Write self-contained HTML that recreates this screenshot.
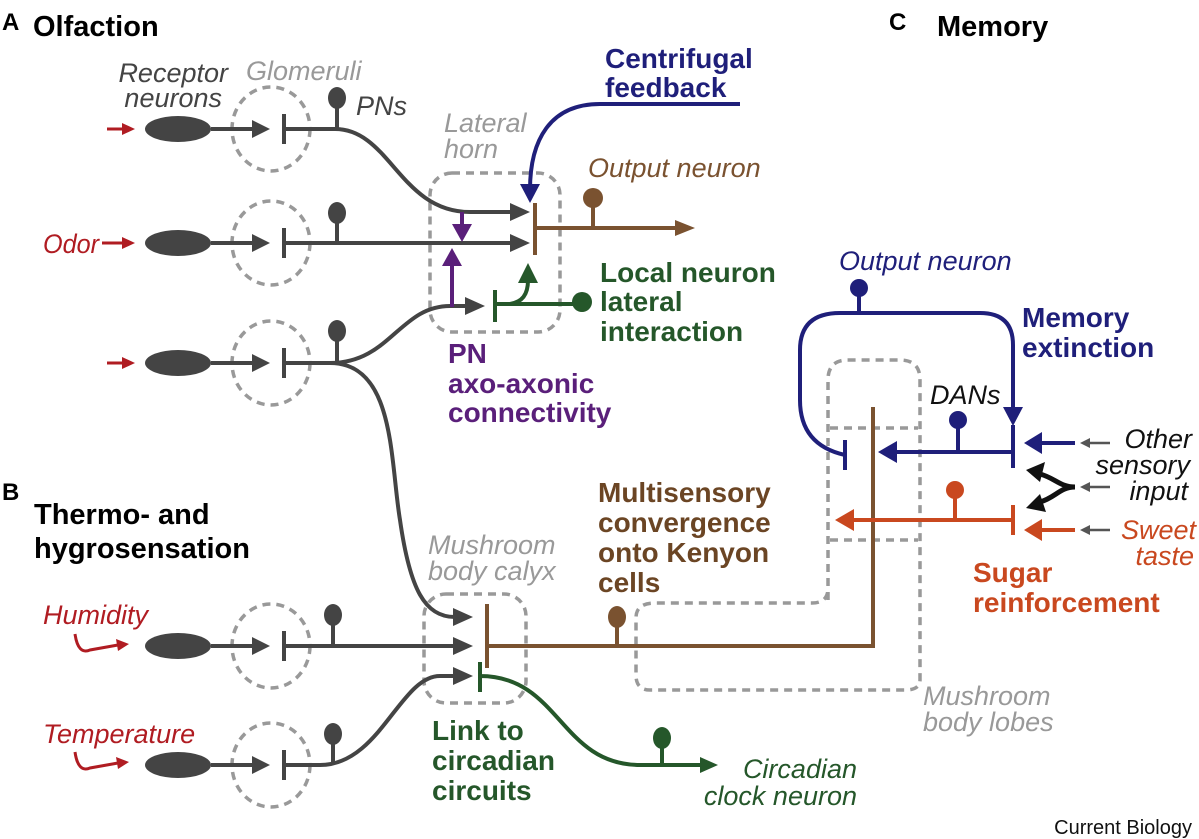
<!DOCTYPE html>
<html><head><meta charset="utf-8"><style>
html,body{margin:0;padding:0;background:#fff}
svg{display:block}
text{font-family:"Liberation Sans",Arial,sans-serif}
.it{font-style:italic}
.b{font-weight:bold}
</style></head><body>
<svg width="1199" height="839" viewBox="0 0 1199 839" xmlns="http://www.w3.org/2000/svg">
<g fill="none" stroke="#999" stroke-width="3.5" stroke-dasharray="8,6">
<ellipse cx="271" cy="129" rx="39" ry="42"/>
<ellipse cx="271" cy="243" rx="39" ry="42"/>
<ellipse cx="271" cy="363" rx="39" ry="42"/>
<ellipse cx="271" cy="646" rx="39" ry="42"/>
<ellipse cx="271" cy="765" rx="39" ry="42"/>
<rect x="430" y="173" width="130" height="159" rx="22"/>
<rect x="424" y="594" width="102" height="109" rx="22"/>
<path d="M828,600 V380 Q828,360 848,360 H900 Q920,360 920,380 V680 Q920,690 905,690 H650 Q636,690 636,675 V618 Q636,603 655,603 H812 Q828,603 828,588"/>
<path d="M830,428 H918 M830,540 H918"/>
</g>
<g fill="#444" stroke="none">
<ellipse cx="178" cy="129" rx="33" ry="13"/>
<ellipse cx="178" cy="243" rx="33" ry="13"/>
<ellipse cx="178" cy="363" rx="33" ry="13"/>
<ellipse cx="178" cy="646" rx="33" ry="13"/>
<ellipse cx="178" cy="765" rx="33" ry="13"/>
<ellipse cx="337" cy="98" rx="9" ry="11"/>
<ellipse cx="337" cy="213" rx="9" ry="11"/>
<ellipse cx="337" cy="331" rx="9" ry="11"/>
<ellipse cx="333" cy="615" rx="9" ry="11"/>
<ellipse cx="333" cy="734" rx="9" ry="11"/>
<path d="M252,120 L270,129 L252,138z M252,234 L270,243 L252,252z M252,354 L270,363 L252,372z M252,637 L270,646 L252,655z M252,756 L270,765 L252,774z"/>
<path d="M510,203 L530,212 L510,221z M510,234 L530,243 L510,252z M465,297 L485,306 L465,315z M453,608 L473,617 L453,626z M453,637 L473,646 L453,655z M453,667 L473,676 L453,685z"/>
</g>
<g fill="none" stroke="#444" stroke-width="4">
<path d="M211,129H254 M211,243H254 M211,363H254 M211,646H254 M211,765H254"/>
<path d="M284,114V144 M284,228V258 M284,348V378 M284,631V661 M284,750V780"/>
<path d="M337,105V129 M337,220V243 M337,338V363 M333,622V646 M333,741V765"/>
<path d="M284,129 H335 C390,129 400,212 470,212 H512"/>
<path d="M284,243 H512"/>
<path d="M284,363 H330 C390,363 400,306 450,306 H467"/>
<path d="M330,363 C395,363 390,460 400,520 C410,590 425,617 455,617"/>
<path d="M284,646 H455"/>
<path d="M284,765 H320 C380,765 400,676 440,676 H455"/>
</g>
<g stroke="#b01c22" stroke-width="3" fill="none">
<path d="M107,129H124 M102,243H124 M107,363H124"/>
<path d="M75,634 Q78,655 90,650 L118,645"/>
<path d="M75,752 Q78,773 90,768 L118,763"/>
</g>
<g fill="#b01c22"><path d="M122,123L135,129L122,135z M122,237L135,243L122,249z M122,357L135,363L122,369z M116,639L129,644L118,651z M116,757L129,762L118,769z"/></g>
<g stroke="#5a1f7a" stroke-width="4" fill="none"><path d="M462,212V228 M452,307V262"/></g>
<g fill="#5a1f7a"><path d="M452,224L472,224L462,242z M442,266L462,266L452,248z"/></g>
<path d="M740,104 H600 C550,104 530,140 530,190" fill="none" stroke="#1f1f7a" stroke-width="4"/>
<path d="M520,184 L540,184 L530,203z" fill="#1f1f7a"/>
<g stroke="#7a5230" stroke-width="4" fill="none"><path d="M535,203V255 M535,228H678 M593,205V228"/></g>
<circle cx="593" cy="198" r="10" fill="#7a5230"/>
<path d="M675,220 L695,228 L675,236z" fill="#7a5230"/>
<g stroke="#25572a" stroke-width="4" fill="none"><path d="M495,290V322 M495,304H582 M510,304 C522,302 528,295 528,280"/></g>
<circle cx="582" cy="302" r="10" fill="#25572a"/>
<path d="M518,283L538,283L528,263z" fill="#25572a"/>
<g stroke="#7a5230" stroke-width="4" fill="none"><path d="M487,604V668 M487,646H873V407 M617,624V646"/></g>
<ellipse cx="617" cy="617" rx="9" ry="11" fill="#7a5230"/>
<g stroke="#25572a" stroke-width="4" fill="none"><path d="M480,662V692 M480,676 C560,676 560,765 640,765 H702 M662,745V765"/></g>
<ellipse cx="662" cy="738" rx="9" ry="11" fill="#25572a"/>
<path d="M700,757L718,765L700,773z" fill="#25572a"/>
<g stroke="#1f1f7a" stroke-width="4" fill="none">
<path d="M845,440V470 M845,455 Q800,445 800,400 V350 Q800,313 840,313 H980 Q1013,313 1013,345 V410"/>
<path d="M859,295V313"/>
<path d="M1013,425V468 M1013,452H893 M958,425V452 M1075,443H1040"/>
</g>
<circle cx="859" cy="288" r="9" fill="#1f1f7a"/>
<circle cx="958" cy="420" r="9" fill="#1f1f7a"/>
<path d="M1003,407L1023,407L1013,426z M897,441L878,452L897,463z M1042,432L1024,443L1042,454z" fill="#1f1f7a"/>
<path d="M1075,487 C1060,487 1055,478 1040,474 M1075,487 C1060,487 1055,498 1040,502" stroke="#111" stroke-width="5" fill="none"/>
<path d="M1045,462L1026,470L1040,482z M1040,494L1026,508L1046,512z" fill="#111"/>
<g stroke="#c9481f" stroke-width="4" fill="none"><path d="M1013,505V535 M1013,520H850 M955,497V520 M1075,530H1040"/></g>
<circle cx="955" cy="490" r="9" fill="#c9481f"/>
<path d="M854,509L835,520L854,531z M1042,519L1024,530L1042,541z" fill="#c9481f"/>
<g stroke="#555" stroke-width="2.5"><path d="M1110,443H1088 M1110,487H1088 M1110,530H1088"/></g>
<path d="M1090,438L1080,443L1090,448z M1090,482L1080,487L1090,492z M1090,525L1080,530L1090,535z" fill="#555"/>
<text x="2" y="30" class="b" font-size="24" fill="#000">A</text>
<text x="33" y="36" class="b" font-size="29" fill="#000">Olfaction</text>
<text x="889" y="30" class="b" font-size="24" fill="#000">C</text>
<text x="937" y="36" class="b" font-size="29" fill="#000">Memory</text>
<text x="2" y="500" class="b" font-size="24" fill="#000">B</text>
<text x="34" y="524" class="b" font-size="29" fill="#000">Thermo- and</text>
<text x="34" y="558" class="b" font-size="29" fill="#000">hygrosensation</text>
<g class="it" font-size="27">
<text x="228" y="82" text-anchor="end" fill="#444">Receptor</text>
<text x="222" y="107" text-anchor="end" fill="#444">neurons</text>
<text x="246" y="80" fill="#999">Glomeruli</text>
<text x="356" y="115" fill="#444">PNs</text>
<text x="444" y="132" fill="#999">Lateral</text>
<text x="444" y="158" fill="#999">horn</text>
<text x="43" y="253" fill="#b01c22" textLength="56" lengthAdjust="spacingAndGlyphs">Odor</text>
<text x="588" y="177" fill="#7a5230">Output neuron</text>
<text x="839" y="270" fill="#1f1f7a">Output neuron</text>
<text x="930" y="404" fill="#111">DANs</text>
<text x="1192" y="448" text-anchor="end" fill="#111">Other</text>
<text x="1190" y="474" text-anchor="end" fill="#111">sensory</text>
<text x="1188" y="500" text-anchor="end" fill="#111">input</text>
<text x="1196" y="539" text-anchor="end" fill="#c9481f">Sweet</text>
<text x="1194" y="565" text-anchor="end" fill="#c9481f">taste</text>
<text x="428" y="554" fill="#999">Mushroom</text>
<text x="428" y="580" fill="#999">body calyx</text>
<text x="923" y="705" fill="#999">Mushroom</text>
<text x="923" y="731" fill="#999">body lobes</text>
<text x="43" y="624" fill="#b01c22">Humidity</text>
<text x="43" y="743" fill="#b01c22">Temperature</text>
<text x="857" y="778" text-anchor="end" fill="#25572a">Circadian</text>
<text x="857" y="805" text-anchor="end" fill="#25572a">clock neuron</text>
</g>
<g class="b" font-size="28">
<text x="605" y="68" fill="#1f1f7a">Centrifugal</text>
<text x="605" y="97" fill="#1f1f7a">feedback</text>
<text x="600" y="282" fill="#25572a">Local neuron</text>
<text x="600" y="311" fill="#25572a">lateral</text>
<text x="600" y="341" fill="#25572a">interaction</text>
<text x="448" y="363" fill="#5a1f7a">PN</text>
<text x="448" y="393" fill="#5a1f7a">axo-axonic</text>
<text x="448" y="422" fill="#5a1f7a">connectivity</text>
<text x="1022" y="327" fill="#1f1f7a">Memory</text>
<text x="1022" y="357" fill="#1f1f7a">extinction</text>
<text x="598" y="502" fill="#6b4524">Multisensory</text>
<text x="598" y="532" fill="#6b4524">convergence</text>
<text x="598" y="562" fill="#6b4524">onto Kenyon</text>
<text x="598" y="592" fill="#6b4524">cells</text>
<text x="973" y="582" fill="#c9481f">Sugar</text>
<text x="973" y="612" fill="#c9481f">reinforcement</text>
<text x="432" y="740" fill="#25572a">Link to</text>
<text x="432" y="770" fill="#25572a">circadian</text>
<text x="432" y="800" fill="#25572a">circuits</text>
</g>
<text x="1192" y="834" text-anchor="end" font-size="20" fill="#111">Current Biology</text>
</svg>
</body></html>
